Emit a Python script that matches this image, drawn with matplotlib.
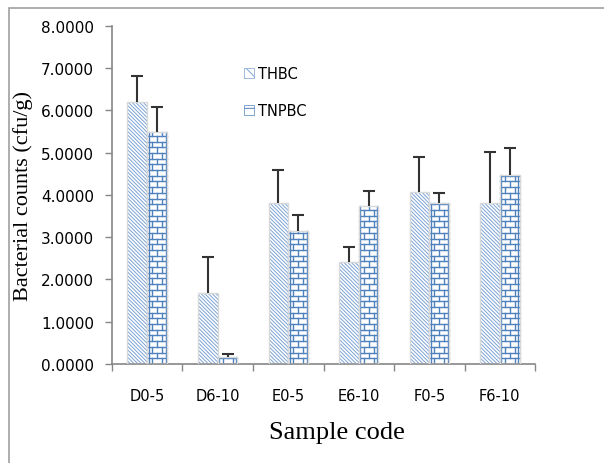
import numpy as np
import matplotlib
matplotlib.use('Agg')
import matplotlib.pyplot as plt
from matplotlib.patches import Patch, Rectangle
from matplotlib.lines import Line2D

# data
samples = ['D0-5', 'D6-10', 'E0-5', 'E6-10', 'F0-5', 'F6-10']
thbc = [6.20, 1.68, 3.81, 2.41, 4.07, 3.81]
thbc_err = [0.62, 0.85, 0.78, 0.36, 0.83, 1.21]
tnpbc = [5.49, 0.17, 3.15, 3.74, 3.81, 4.47]
tnpbc_err = [0.59, 0.07, 0.38, 0.36, 0.24, 0.64]
yticks = [0, 1, 2, 3, 4, 5, 6, 7, 8]

light_blue = '#7ba3d6'
brick_blue = '#4f81bd'
outline = '#d9d9d9'
axis_grey = '#868686'

fig = plt.figure(figsize=(6.04, 4.64), dpi=100)
ax = fig.add_axes([0.1854, 0.2134, 0.7004, 0.7284])

x = np.arange(len(samples))
w = 0.28

# THBC: diagonal hatch
plt.rcParams['hatch.linewidth'] = 0.7
ax.bar(x - w / 2, thbc, w, color='white', edgecolor=light_blue, linewidth=0,
       hatch='\\' * 9, zorder=2)
ax.bar(x - w / 2, thbc, w, fill=False, edgecolor=outline, linewidth=1.0, zorder=3)

# TNPBC: brick pattern drawn inside each bar
b2 = ax.bar(x + w / 2, tnpbc, w, color='white', linewidth=0, zorder=2)
row_h = 0.135
for bar in b2:
    x0, bw, h = bar.get_x(), bar.get_width(), bar.get_height()
    r = 0
    yb = 0.0
    while yb <= h:
        ax.add_line(Line2D([x0, x0 + bw], [yb, yb], color=brick_blue, lw=1.0,
                           zorder=2.5, clip_path=bar))
        yt = min(yb + row_h, h)
        for o in ([0.25, 0.75] if r % 2 == 0 else [0.5]):
            xv = x0 + o * bw
            ax.add_line(Line2D([xv, xv], [yb, yt], color=brick_blue, lw=1.0,
                               zorder=2.5, clip_path=bar))
        r += 1
        yb = r * row_h
    for xv in (x0 + 0.02, x0 + bw - 0.02):
        ax.add_line(Line2D([xv, xv], [0, h], color=brick_blue, lw=1.0,
                           zorder=2.5, clip_path=bar))
ax.bar(x + w / 2, tnpbc, w, fill=False, edgecolor=outline, linewidth=1.0, zorder=3)

# error bars (upper only)
for xs, vals, errs in [(x - w / 2, thbc, thbc_err), (x + w / 2, tnpbc, tnpbc_err)]:
    eb = ax.errorbar(xs, vals, yerr=[np.zeros(len(vals)), errs], fmt='none',
                     ecolor='#333333', elinewidth=1.5, capsize=4, capthick=1.5, zorder=4)
    eb[1][0].set_visible(False)

ax.set_xlim(-0.5, len(samples) - 0.5)
ax.set_ylim(0, 8)
ax.set_yticks(yticks)
ax.set_yticklabels(['%.4f' % v for v in yticks], fontsize=11, family='DejaVu Sans')
ax.set_xticks(np.arange(len(samples) + 1) - 0.5)
ax.set_xticklabels([])
ax.set_xticks(x, minor=True)
ax.set_xticklabels(samples, minor=True, fontsize=10.5, family='DejaVu Sans')
ax.tick_params(axis='x', which='minor', length=0, pad=17)
ax.tick_params(axis='both', which='major', length=5, width=1, color=axis_grey, direction='out')
ax.tick_params(axis='y', pad=8)

for s in ['top', 'right']:
    ax.spines[s].set_visible(False)
for s in ['left', 'bottom']:
    ax.spines[s].set_color(axis_grey)
    ax.spines[s].set_linewidth(1.2)

ax.set_ylabel('Bacterial counts (cfu/g)', family='Liberation Serif', fontsize=16)
ax.yaxis.set_label_coords(-0.186, 0.5)
ax.set_xlabel('Sample code', family='Liberation Serif', fontsize=19)
ax.xaxis.set_label_coords(0.532, -0.168)

handles = [Patch(facecolor='white', edgecolor=light_blue, hatch='\\\\\\', linewidth=0.5),
           Patch(facecolor='white', edgecolor=brick_blue, hatch='+', linewidth=0.5)]
ax.legend(handles, ['THBC', 'TNPBC'], loc='upper left', bbox_to_anchor=(0.28, 0.92),
          frameon=False, handlelength=0.7, handleheight=0.7,
          handletextpad=0.3, labelspacing=1.5, prop={'family': 'DejaVu Sans', 'size': 10.5})

# outer frame of the picture
fig.patches.append(Rectangle((9 / 604, -0.1), 1.2, 1 - 9 / 464 + 0.1, transform=fig.transFigure,
                             fill=False, edgecolor='#a0a0a0', linewidth=1.2))

fig.savefig('out.png', dpi=100)
